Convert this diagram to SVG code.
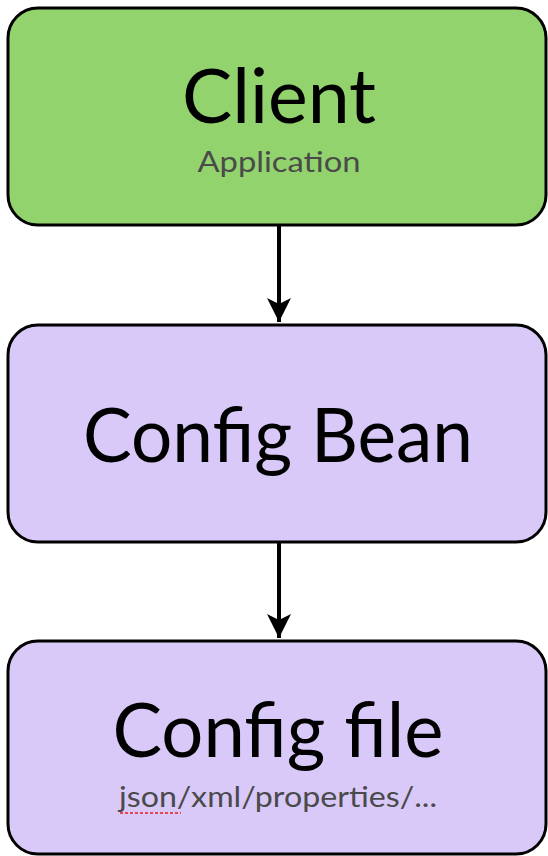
<svg xmlns="http://www.w3.org/2000/svg" width="548" height="856" viewBox="0 0 548 856">
<style>
.box{stroke:#000;stroke-width:3}
.green{fill:#92d36e}
.purple{fill:#d9c9f9}
.title{font-family:Lato,"Liberation Sans",sans-serif;font-size:76px;fill:#000;text-anchor:middle}
.sub{font-family:Lato,"Liberation Sans",sans-serif;font-size:28px;fill:#4a4a4a;text-anchor:middle}
.edge{stroke:#000;stroke-width:4;fill:none}
</style>
<defs>
<marker id="arr" markerUnits="userSpaceOnUse" markerWidth="26" markerHeight="24" refX="24" refY="12" orient="auto">
<path d="M0,0 L24,12 L0,24 L6,12 Z" fill="#000"/>
</marker>
</defs>
<rect width="548" height="856" fill="#fff"/>
<g id="connectors">
<line class="edge" x1="279" y1="226" x2="279" y2="322" marker-end="url(#arr)"/>
<line class="edge" x1="279" y1="543" x2="279" y2="638" marker-end="url(#arr)"/>
</g>
<g id="client">
<rect class="box green" x="8" y="8" width="538" height="217" rx="30"/>
<text class="title" x="279" y="123" textLength="194" lengthAdjust="spacingAndGlyphs">Client</text>
<text class="sub" x="279" y="172" textLength="163" lengthAdjust="spacingAndGlyphs">Application</text>
</g>
<g id="configBean">
<rect class="box purple" x="8" y="325" width="538" height="217" rx="30"/>
<text class="title" x="278" y="462" textLength="390" lengthAdjust="spacingAndGlyphs">Config Bean</text>
</g>
<g id="configFile">
<rect class="box purple" x="8" y="641" width="538" height="213" rx="30"/>
<text class="title" x="278" y="757" textLength="331" lengthAdjust="spacingAndGlyphs">Config file</text>
<text class="sub" x="278" y="807" textLength="318" lengthAdjust="spacingAndGlyphs">json/xml/properties/...</text>
<line x1="120" y1="813" x2="181" y2="813" stroke="#e8474f" stroke-width="2" stroke-dasharray="3,2"/>
</g>
</svg>
